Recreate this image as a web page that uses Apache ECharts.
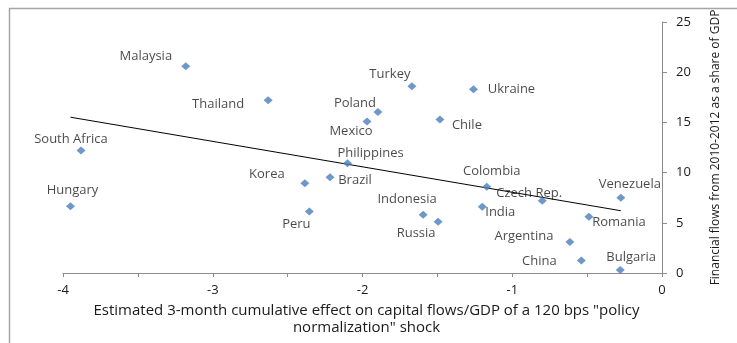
<!DOCTYPE html>
<html>
<head>
<meta charset="utf-8">
<script src="https://cdn.jsdelivr.net/npm/echarts@6/dist/echarts.min.js"></script>
<style>
  html, body { margin: 0; padding: 0; background: #fff; }
  #chart { width: 737px; height: 343px; }
</style>
</head>
<body>
<div id="chart"></div>
<script>
// Countries and their two measures
const countries = ['Malaysia', 'Thailand', 'South Africa', 'Hungary', 'Korea', 'Brazil', 'Peru',
  'Philippines', 'Mexico', 'Poland', 'Turkey', 'Ukraine', 'Chile', 'Colombia', 'Czech Rep.',
  'Venezuela', 'India', 'Indonesia', 'Russia', 'Romania', 'Argentina', 'China', 'Bulgaria'];
// Estimated 3-month cumulative effect on capital flows/GDP
const shockEffect = [-3.18, -2.63, -3.88, -3.95, -2.385, -2.217, -2.355,
  -2.10, -1.97, -1.897, -1.67, -1.259, -1.483, -1.17, -0.80,
  -0.275, -1.20, -1.595, -1.495, -0.488, -0.615, -0.539, -0.279];
// Financial flows 2010-2012, % of GDP
const financialFlows = [20.6, 17.2, 12.2, 6.65, 8.94, 9.53, 6.12,
  10.93, 15.1, 16.04, 18.6, 18.3, 15.3, 8.6, 7.2,
  7.5, 6.6, 5.8, 5.1, 5.6, 3.1, 1.25, 0.3];
const xTicks = [-4, -3, -2, -1, 0];
const yTicks = [0, 5, 10, 15, 20, 25];

// Label placement around each marker (pixel offsets from the marker centre)
const labelOffsets = {
  'Malaysia': [-40, -10], 'Thailand': [-50, 4], 'South Africa': [-10, -11], 'Hungary': [2, -16],
  'Korea': [-38, -9], 'Brazil': [25, 3], 'Peru': [-13, 13], 'Philippines': [23, -10],
  'Mexico': [-16, 10], 'Poland': [-23, -9], 'Turkey': [-22, -12], 'Ukraine': [38, 0],
  'Chile': [27, 6], 'Colombia': [5, -15], 'Czech Rep.': [-13, -7], 'Venezuela': [9, -13],
  'India': [18, 6], 'Indonesia': [-16, -15], 'Russia': [-22, 12], 'Romania': [30, 6],
  'Argentina': [-46, -6], 'China': [-42, 1], 'Bulgaria': [11, -13]
};

// Ordinary least-squares trend line
const n = shockEffect.length;
const mx = shockEffect.reduce((a, b) => a + b, 0) / n;
const my = financialFlows.reduce((a, b) => a + b, 0) / n;
let sxy = 0, sxx = 0;
for (let i = 0; i < n; i++) {
  sxy += (shockEffect[i] - mx) * (financialFlows[i] - my);
  sxx += (shockEffect[i] - mx) * (shockEffect[i] - mx);
}
const slope = sxy / sxx;
const intercept = my - slope * mx;
const xLo = Math.min(...shockEffect), xHi = Math.max(...shockEffect);
const trend = [[xLo, intercept + slope * xLo], [xHi, intercept + slope * xHi]];

const FONT = '"Open Sans", "Noto Sans", sans-serif';
const axisGrey = '#8c8c8c';
const textColor = '#1a1a1a';

const points = countries.map((name, i) => ({ name: name, value: [shockEffect[i], financialFlows[i]] }));

const chart = echarts.init(document.getElementById('chart'), null, { renderer: 'canvas' });
chart.setOption({
  animation: false,
  backgroundColor: '#fff',
  graphic: [{
    type: 'rect', left: 7, top: 6, silent: true,
    shape: { width: 760, height: 360 },
    style: { fill: 'none', stroke: '#a6a6a6', lineWidth: 1.5 }
  }],
  grid: { left: 63, right: 75, top: 22, bottom: 70 },
  xAxis: {
    type: 'value', min: xTicks[0], max: xTicks[xTicks.length - 1], interval: 0.5,
    axisLine: { onZero: false, lineStyle: { color: axisGrey, width: 1 } },
    axisTick: { show: true, inside: false, length: 4, lineStyle: { color: axisGrey } },
    splitLine: { show: false },
    axisLabel: {
      margin: 11, color: textColor, fontFamily: FONT, fontSize: 13,
      formatter: v => (xTicks.indexOf(v) >= 0 ? String(v) : '')
    },
    name: 'Estimated 3-month cumulative effect on capital flows/GDP of a 120 bps "policy\nnormalization" shock',
    nameLocation: 'middle', nameGap: 29,
    nameTextStyle: {
      color: textColor, fontFamily: FONT, fontSize: 15, lineHeight: 17, align: 'center',
      padding: [0, 0, 0, 8]
    }
  },
  yAxis: {
    type: 'value', position: 'right', min: yTicks[0], max: yTicks[yTicks.length - 1], interval: 5,
    axisLine: { show: true, lineStyle: { color: axisGrey, width: 1 } },
    axisTick: { show: true, inside: false, length: 5, lineStyle: { color: axisGrey } },
    splitLine: { show: false },
    axisLabel: { margin: 14, color: textColor, fontFamily: FONT, fontSize: 13 },
    name: 'Financial flows from 2010-2012 as a share of GDP',
    nameLocation: 'middle', nameGap: 48, nameRotate: 90,
    nameTextStyle: { color: textColor, fontFamily: FONT, fontSize: 12 }
  },
  series: [{
    type: 'line', data: trend, symbol: 'none', silent: true,
    lineStyle: { color: '#000', width: 1 }, z: 1
  }, {
    type: 'scatter', data: points, symbol: 'diamond', symbolSize: [9, 8],
    itemStyle: { color: '#4a7ebb' }, z: 2,
    label: {
      show: true, position: 'inside', formatter: '{b}',
      color: textColor, fontFamily: FONT, fontSize: 13, align: 'center', verticalAlign: 'middle'
    },
    labelLayout: function (params) {
      const off = labelOffsets[countries[params.dataIndex]] || [0, 0];
      return { dx: off[0], dy: off[1], hideOverlap: false };
    }
  }]
});
</script>
</body>
</html>
